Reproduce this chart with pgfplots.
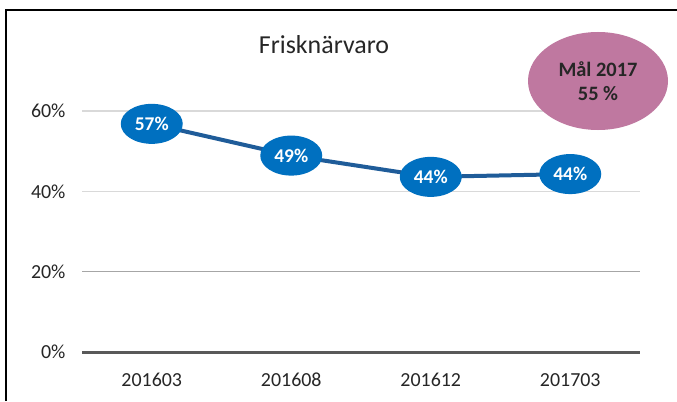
\documentclass[border=0pt]{standalone}
\usepackage{pgfplots}
\pgfplotsset{compat=1.18}
\usepackage{fontspec}
\setmainfont{Carlito}
\usetikzlibrary{shapes.geometric}
\definecolor{ptblue}{HTML}{0070C0}
\definecolor{lineblue}{HTML}{1F5C99}
\definecolor{goalpink}{HTML}{BF78A0}
\definecolor{gridlight}{HTML}{D9D9D9}
\definecolor{gridmid}{HTML}{A6A6A6}
\definecolor{axisdark}{HTML}{595959}
\begin{document}
\begin{tikzpicture}[x=1bp,y=1bp]
\useasboundingbox (0,0) rectangle (677,401);
\fill[white] (0,0) rectangle (677,401);
\draw[line width=2.5bp] (6,0) -- (6,391) -- (677,391);
\begin{axis}[
  at={(82bp,49bp)}, anchor=south west,
  scale only axis, width=558bp, height=241bp,
  xmin=-0.5, xmax=3.5, ymin=0, ymax=60,
  clip=false,
  axis line style={draw=none}, tick style={draw=none},
  major tick length=0pt,
  xtick={0,1,2,3}, xticklabels={201603,201608,201612,201703},
  ytick={0,20,40,60}, yticklabels={0\%,20\%,40\%,60\%},
  ticklabel style={font=\fontsize{20}{24}\selectfont, text=black!85},
  yticklabel style={anchor=east, xshift=-13bp},
  xticklabel style={anchor=base, yshift=-34bp},
]
\draw[gridlight, line width=1.5bp] (axis cs:-0.5,60) -- (axis cs:3.5,60);
\draw[gridlight, line width=1.5bp] (axis cs:-0.5,40) -- (axis cs:3.5,40);
\draw[gridmid, line width=1.5bp] (axis cs:-0.5,20) -- (axis cs:3.5,20);
\draw[axisdark, line width=3bp] (axis cs:-0.5,0) -- (axis cs:3.5,0);
\addplot[lineblue, line width=4bp, mark=none,
  nodes near coords, point meta=explicit symbolic,
  every node near coord/.append style={anchor=center, ellipse, fill=ptblue,
    minimum width=62bp, minimum height=40bp, inner sep=0pt, text=white,
    font=\bfseries\fontsize{19.5}{22}\selectfont}]
  coordinates {(0,56.8) [57\%] (1,48.9) [49\%] (2,43.6) [44\%] (3,44.3) [44\%]};
\end{axis}
\node[font=\fontsize{26}{30}\selectfont, text=black!85] at (324,356) {Frisknärvaro};
\node[ellipse, fill=goalpink, minimum width=140bp, minimum height=98bp, inner sep=0pt,
  align=center, font=\bfseries\fontsize{20.5}{24}\selectfont, text=black!85] at (598,320) {Mål 2017\\55 \%};
\end{tikzpicture}
\end{document}
